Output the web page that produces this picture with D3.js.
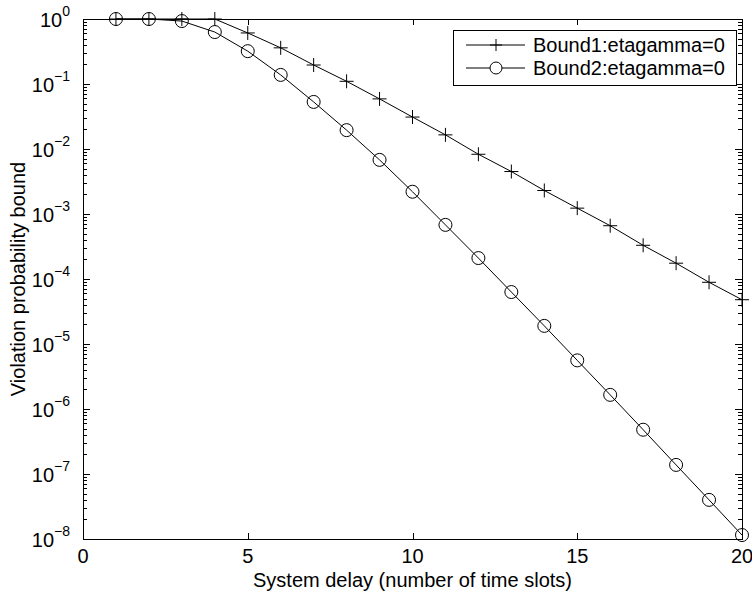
<!DOCTYPE html>
<html>
<head>
<meta charset="utf-8">
<script src="https://cdn.jsdelivr.net/npm/d3@7"></script>
<style>
  body { margin: 0; background: #fff; }
  text { font-family: "Liberation Sans", Arial, sans-serif; fill: #000; }
</style>
</head>
<body>
<div id="chart"></div>
<script>
var delay = [1, 2, 3, 4, 5, 6, 7, 8, 9, 10, 11, 12, 13, 14, 15, 16, 17, 18, 19, 20];
var bound1 = [1, 1, 1, 1, 0.61, 0.36, 0.196, 0.11, 0.059, 0.031, 0.0165, 0.0083, 0.0045, 0.0023,
  0.00123, 6.6e-4, 3.3e-4, 1.75e-4, 8.9e-5, 4.8e-5];
var bound2 = [1, 1, 0.93, 0.63, 0.32, 0.138, 0.053, 0.0195, 0.0068, 0.0022, 6.8e-4, 2.1e-4, 6.3e-5,
  1.9e-5, 5.6e-6, 1.65e-6, 4.8e-7, 1.38e-7, 4.0e-8, 1.15e-8];
var xTicks = [0, 5, 10, 15, 20];
var yExps = [0, -1, -2, -3, -4, -5, -6, -7, -8];
var legendNames = ["Bound1:etagamma=0", "Bound2:etagamma=0"];

var w = 752, h = 599,
  pLeft = 83, pRight = 742, pTop = 19, pBottom = 539;

var svg = d3.select("#chart").append("svg")
  .attr("width", w)
  .attr("height", h);

var x = d3.scaleLinear().domain([0, 20]).range([pLeft, pRight]);
var y = d3.scaleLog().domain([1e-8, 1]).range([pBottom, pTop]);

// box
svg.append("rect")
  .attr("x", pLeft + 0.5).attr("y", pTop + 0.5)
  .attr("width", pRight - pLeft).attr("height", pBottom - pTop)
  .attr("fill", "none").attr("stroke", "#000").attr("stroke-width", 1);

// x ticks, inward on top and bottom
var g = svg.append("g").attr("stroke", "#000").attr("stroke-width", 1);
xTicks.forEach(function (t) {
  var px = Math.round(x(t)) + 0.5;
  g.append("line").attr("x1", px).attr("x2", px).attr("y1", pBottom).attr("y2", pBottom - 6);
  g.append("line").attr("x1", px).attr("x2", px).attr("y1", pTop).attr("y2", pTop + 6);
});

// y ticks (major and minor) on both sides
yExps.forEach(function (e) {
  for (var m = 1; m < 10; m++) {
    if (e === 0 && m > 1) break;
    var v = m * Math.pow(10, e);
    var py = Math.round(y(v)) + 0.5;
    var len = m === 1 ? 7 : 4;
    g.append("line").attr("x1", pLeft).attr("x2", pLeft + len).attr("y1", py).attr("y2", py);
    g.append("line").attr("x1", pRight).attr("x2", pRight - len).attr("y1", py).attr("y2", py);
  }
});

// x tick labels
svg.selectAll(".xl")
  .data(xTicks)
  .enter().append("text")
  .attr("class", "xl")
  .attr("x", function (d) { return x(d); })
  .attr("y", 563)
  .attr("text-anchor", "middle")
  .attr("font-size", 20)
  .text(function (d) { return d; });

// y tick labels 10^e
yExps.forEach(function (e) {
  var t = svg.append("text")
    .attr("x", 70)
    .attr("y", y(Math.pow(10, e)) + 8)
    .attr("text-anchor", "end")
    .attr("font-size", 20);
  t.append("tspan").text("10");
  t.append("tspan").attr("dy", -11).attr("font-size", 14).text(e === 0 ? "0" : "\u2212" + (-e));
});

// axis labels
svg.append("text")
  .attr("x", (pLeft + pRight) / 2)
  .attr("y", 587)
  .attr("text-anchor", "middle")
  .attr("font-size", 20)
  .text("System delay (number of time slots)");

svg.append("text")
  .attr("transform", "translate(25," + ((pTop + pBottom) / 2) + ") rotate(-90)")
  .attr("text-anchor", "middle")
  .attr("font-size", 20)
  .text("Violation probability bound");

// lines
var line = d3.line()
  .x(function (d) { return x(d[0]); })
  .y(function (d) { return y(d[1]); });

var s1 = delay.map(function (d, i) { return [d, bound1[i]]; });
var s2 = delay.map(function (d, i) { return [d, bound2[i]]; });

svg.append("path").datum(s1).attr("d", line)
  .attr("fill", "none").attr("stroke", "#000").attr("stroke-width", 1);
svg.append("path").datum(s2).attr("d", line)
  .attr("fill", "none").attr("stroke", "#000").attr("stroke-width", 1);

function plus(sel, cx, cy, r) {
  sel.append("path")
    .attr("d", "M" + (cx - r) + "," + cy + "H" + (cx + r) + "M" + cx + "," + (cy - r) + "V" + (cy + r))
    .attr("stroke", "#000").attr("stroke-width", 1).attr("fill", "none");
}

s1.forEach(function (d) { plus(svg, x(d[0]), y(d[1]), 7); });

svg.selectAll(".mk2")
  .data(s2)
  .enter().append("circle")
  .attr("class", "mk2")
  .attr("cx", function (d) { return x(d[0]); })
  .attr("cy", function (d) { return y(d[1]); })
  .attr("r", 6.5)
  .attr("fill", "none")
  .attr("stroke", "#000")
  .attr("stroke-width", 1);

// legend
var lg = svg.append("g");
lg.append("rect")
  .attr("x", 453.5).attr("y", 30.5)
  .attr("width", 283).attr("height", 55)
  .attr("fill", "#fff").attr("stroke", "#000").attr("stroke-width", 1);

legendNames.forEach(function (name, i) {
  var ly = 45 + i * 23;
  lg.append("line").attr("x1", 466).attr("x2", 525).attr("y1", ly).attr("y2", ly)
    .attr("stroke", "#000").attr("stroke-width", 1);
  if (i === 0) {
    plus(lg, 496, ly, 6);
  } else {
    lg.append("circle").attr("cx", 496).attr("cy", ly).attr("r", 6)
      .attr("fill", "#fff").attr("stroke", "#000").attr("stroke-width", 1);
  }
  lg.append("text")
    .attr("x", 533)
    .attr("y", ly + 7)
    .attr("font-size", 20)
    .text(name);
});
</script>
</body>
</html>
